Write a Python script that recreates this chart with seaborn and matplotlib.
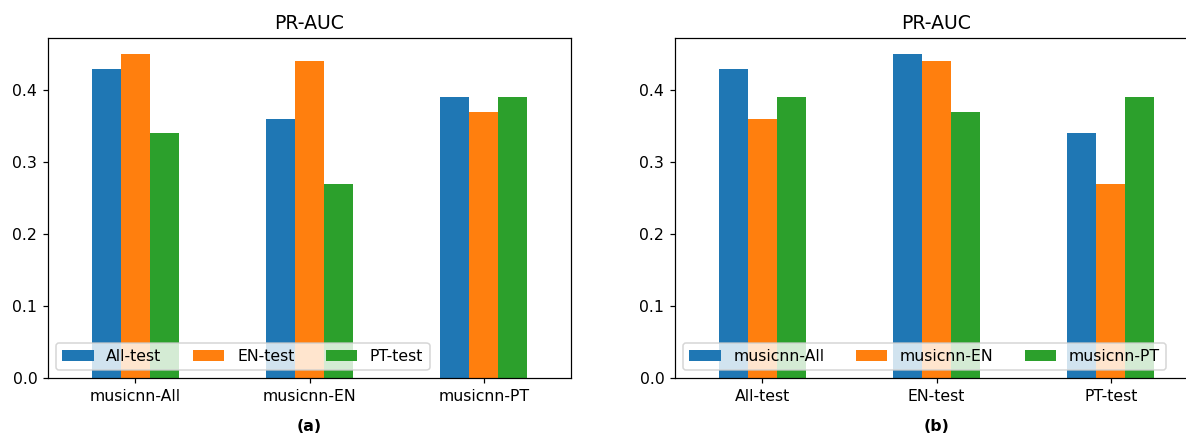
import pandas as pd
import seaborn as sns
import matplotlib.pyplot as plt

# data
models = ['musicnn-All', 'musicnn-EN', 'musicnn-PT']
tests = ['All-test', 'EN-test', 'PT-test']
score_all = [0.43, 0.45, 0.34]   # musicnn-All on All/EN/PT test
score_en = [0.36, 0.44, 0.27]    # musicnn-EN
score_pt = [0.39, 0.37, 0.39]    # musicnn-PT

rows = []
for m, vals in zip(models, [score_all, score_en, score_pt]):
    for t, v in zip(tests, vals):
        rows.append({'model': m, 'test': t, 'prauc': v})
df = pd.DataFrame(rows)

colors = ['#1f77b4', '#ff7f0e', '#2ca02c']
plt.rcParams['font.size'] = 10.3

dpi = 110
fig = plt.figure(figsize=(1186 / dpi, 435 / dpi), dpi=dpi)
W, H = 1186, 435
ax1 = fig.add_axes([48 / W, (H - 378) / H, 523 / W, 340 / H])
ax2 = fig.add_axes([675 / W, (H - 378) / H, 523 / W, 340 / H])

# (a) models on x, test sets as hue
sns.barplot(data=df, x='model', y='prauc', hue='test', order=models, hue_order=tests,
            palette=colors, saturation=1, width=0.5, linewidth=0, ax=ax1)
ax1.legend(loc='lower left', ncol=3)
ax1.set_title('PR-AUC')
ax1.set_ylabel('')
ax1.set_xlabel('(a)', fontweight='bold', labelpad=10)

# (b) test sets on x, models as hue
sns.barplot(data=df, x='test', y='prauc', hue='model', order=tests, hue_order=models,
            palette=colors, saturation=1, width=0.5, linewidth=0, ax=ax2)
ax2.legend(loc='lower left', ncol=3)
ax2.set_title('PR-AUC')
ax2.set_ylabel('')
ax2.set_xlabel('(b)', fontweight='bold', labelpad=10)

for ax in (ax1, ax2):
    ax.set_yticks([0.0, 0.1, 0.2, 0.3, 0.4])

fig.savefig('out.png', dpi=dpi)
